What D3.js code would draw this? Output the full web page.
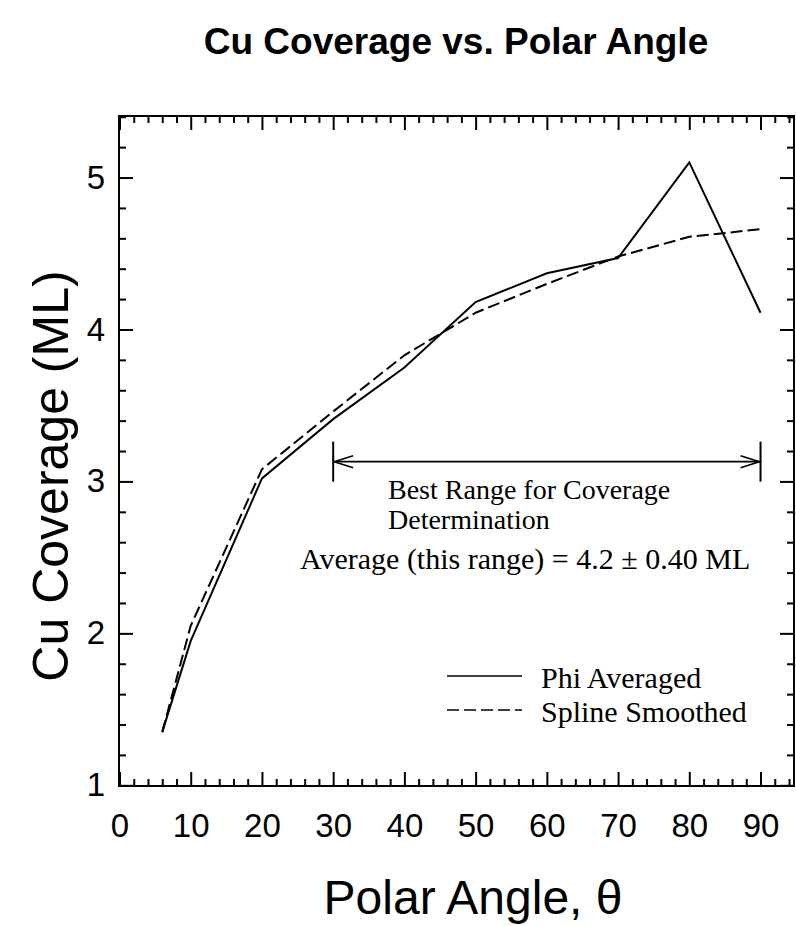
<!DOCTYPE html>
<html>
<head>
<meta charset="utf-8">
<script src="https://cdn.jsdelivr.net/npm/d3@7"></script>
<style>
  html, body { margin: 0; padding: 0; background: #fff; }
  svg { display: block; }
</style>
</head>
<body>
<svg id="chart" width="796" height="926"></svg>
<script>
// ---- data ----
const angles      = [6, 10, 20, 30, 40, 50, 60, 70, 80, 90];
const phiAveraged = [1.35, 1.95, 3.02, 3.41, 3.75, 4.18, 4.37, 4.47, 5.10, 4.11];
const splineSmoothed = [1.35, 2.05, 3.08, 3.46, 3.83, 4.11, 4.30, 4.48, 4.61, 4.66];
const xTickValues = [0, 10, 20, 30, 40, 50, 60, 70, 80, 90];
const yTickValues = [1, 2, 3, 4, 5];
const seriesNames = ["Phi Averaged", "Spline Smoothed"];
const rangeStart = 30, rangeEnd = 90, rangeLevel = 3.13;
const titleText = "Cu Coverage vs. Polar Angle";
const xLabel = "Polar Angle, \u03B8";
const yLabel = "Cu Coverage (ML)";
const noteLines = ["Best Range for Coverage", "Determination"];
const avgText = "Average (this range) = 4.2 \u00B1 0.40 ML";

(function () {
// ---- layout ----
const pL = 119, pR = 794, pT = 116, pB = 786;
const svg = d3.select("#chart");
const x = d3.scaleLinear().domain([0, 94.7]).range([119.5, pR]);
const y = d3.scaleLinear().domain([1, 5.405]).range([785.3, pT]);

const sans = "'Liberation Sans', Arial, sans-serif";
const serif = "'Liberation Serif', 'Times New Roman', serif";

// title
svg.append("text").attr("x", 456).attr("y", 54)
  .attr("text-anchor", "middle").attr("font-family", sans)
  .attr("font-weight", "bold").attr("font-size", 37).text(titleText);

// minor tick values
const xMinor = d3.range(0, 94.7, 2).filter(v => v % 10 !== 0);
const yMinor = d3.range(1, 5.41, 0.2).map(v => +v.toFixed(1)).filter(v => Math.abs(v - Math.round(v)) > 1e-6);

function styleAxis(g) {
  g.select(".domain").remove();
  g.selectAll(".tick line").attr("stroke", "#000").attr("stroke-width", 2);
}

// bottom
svg.append("g").attr("transform", `translate(0,${pB})`)
  .call(d3.axisBottom(x).tickValues(xTickValues).tickSizeInner(-14).tickSizeOuter(0).tickPadding(28))
  .call(styleAxis)
  .call(g => g.selectAll("text").attr("font-family", sans).attr("font-size", 33).attr("fill", "#000"));
svg.append("g").attr("transform", `translate(0,${pB})`)
  .call(d3.axisBottom(x).tickValues(xMinor).tickSizeInner(-7).tickSizeOuter(0).tickFormat(""))
  .call(styleAxis);
// top
svg.append("g").attr("transform", `translate(0,${pT})`)
  .call(d3.axisTop(x).tickValues(xTickValues).tickSizeInner(-14).tickSizeOuter(0).tickFormat(""))
  .call(styleAxis);
svg.append("g").attr("transform", `translate(0,${pT})`)
  .call(d3.axisTop(x).tickValues(xMinor).tickSizeInner(-7).tickSizeOuter(0).tickFormat(""))
  .call(styleAxis);
// left
svg.append("g").attr("transform", `translate(${pL},0)`)
  .call(d3.axisLeft(y).tickValues(yTickValues).tickFormat(d3.format("d"))
    .tickSizeInner(-14).tickSizeOuter(0).tickPadding(14))
  .call(styleAxis)
  .call(g => g.selectAll("text").attr("font-family", sans).attr("font-size", 33).attr("fill", "#000"));
svg.append("g").attr("transform", `translate(${pL},0)`)
  .call(d3.axisLeft(y).tickValues(yMinor).tickSizeInner(-7).tickSizeOuter(0).tickFormat(""))
  .call(styleAxis);
// right
svg.append("g").attr("transform", `translate(${pR},0)`)
  .call(d3.axisRight(y).tickValues(yTickValues).tickSizeInner(-14).tickSizeOuter(0).tickFormat(""))
  .call(styleAxis);
svg.append("g").attr("transform", `translate(${pR},0)`)
  .call(d3.axisRight(y).tickValues(yMinor).tickSizeInner(-7).tickSizeOuter(0).tickFormat(""))
  .call(styleAxis);

// frame
svg.append("rect").attr("x", pL).attr("y", pT)
  .attr("width", pR - pL).attr("height", pB - pT)
  .attr("fill", "none").attr("stroke", "#000").attr("stroke-width", 2);

// axis labels
svg.append("text").attr("x", 473).attr("y", 914)
  .attr("text-anchor", "middle").attr("font-family", sans)
  .attr("font-size", 48).text(xLabel);
svg.append("text").attr("transform", "translate(68,476) rotate(-90)")
  .attr("text-anchor", "middle").attr("font-family", sans)
  .attr("font-size", 50).text(yLabel);

// series
const line = d3.line().x(d => x(d[0])).y(d => y(d[1]));
svg.append("path").datum(angles.map((a, i) => [a, phiAveraged[i]]))
  .attr("d", line).attr("fill", "none").attr("stroke", "#000").attr("stroke-width", 2);
svg.append("path").datum(angles.map((a, i) => [a, splineSmoothed[i]]))
  .attr("d", line).attr("fill", "none").attr("stroke", "#000").attr("stroke-width", 2)
  .attr("stroke-dasharray", "12,5");

// range arrow
const ax0 = x(rangeStart), ax1 = x(rangeEnd), ay = y(rangeLevel);
const arrow = svg.append("g").attr("stroke", "#000").attr("stroke-width", 1.6).attr("fill", "none");
arrow.append("line").attr("x1", ax0).attr("x2", ax1).attr("y1", ay).attr("y2", ay);
arrow.append("line").attr("x1", ax0).attr("x2", ax0).attr("y1", ay - 20).attr("y2", ay + 20).attr("stroke-width", 2);
arrow.append("line").attr("x1", ax1).attr("x2", ax1).attr("y1", ay - 20).attr("y2", ay + 20).attr("stroke-width", 2);
arrow.append("path").attr("d", `M${ax0 + 20},${ay - 6} L${ax0 + 1},${ay} L${ax0 + 20},${ay + 6}`);
arrow.append("path").attr("d", `M${ax1 - 20},${ay - 6} L${ax1 - 1},${ay} L${ax1 - 20},${ay + 6}`);

// notes
noteLines.forEach((t, i) => {
  svg.append("text").attr("x", 388).attr("y", 499 + i * 30)
    .attr("font-family", serif).attr("font-size", 28).attr("fill", "#000").text(t);
});
svg.append("text").attr("x", 300).attr("y", 569).attr("font-family", serif)
  .attr("font-size", 30).text(avgText);

// legend
const legend = svg.append("g");
const legY = [676, 710];
seriesNames.forEach((name, i) => {
  legend.append("line").attr("x1", 447).attr("x2", 522).attr("y1", legY[i]).attr("y2", legY[i])
    .attr("stroke", "#000").attr("stroke-width", 1.6)
    .attr("stroke-dasharray", i === 1 ? "12,5" : null);
  legend.append("text").attr("x", 541).attr("y", legY[i] + 12)
    .attr("font-family", serif).attr("font-size", 30).text(name);
});
})();
</script>
</body>
</html>
